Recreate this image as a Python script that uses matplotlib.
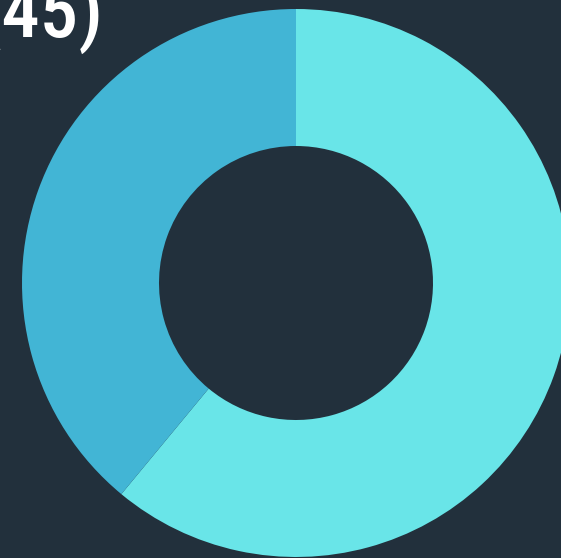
import matplotlib
matplotlib.use("Agg")
import matplotlib.pyplot as plt

labels = ["A", "B"]
values = [61, 39]
colors = ["#69e5e8", "#42b5d5"]
title_text = "(45)"

W, H = 561, 558
bg = "#22303c"
fig = plt.figure(figsize=(W / 100, H / 100), dpi=100, facecolor=bg)
ax = fig.add_axes([22 / W, 1 / H, 548 / W, 548 / H])
ax.set_facecolor(bg)
ax.pie(values, colors=colors, startangle=90, counterclock=False,
       wedgeprops=dict(width=0.5, linewidth=0), radius=1)
ax.set_xlim(-1, 1)
ax.set_ylim(-1, 1)
ax.set_aspect("equal")
ax.axis("off")

fig.text(103 / W, 1 - 37 / H, title_text, ha="right", va="baseline",
         fontsize=55, fontweight=500, fontstretch="condensed",
         color="white", family="Roboto Condensed")

fig.savefig("out.png", dpi=100, facecolor=bg)
